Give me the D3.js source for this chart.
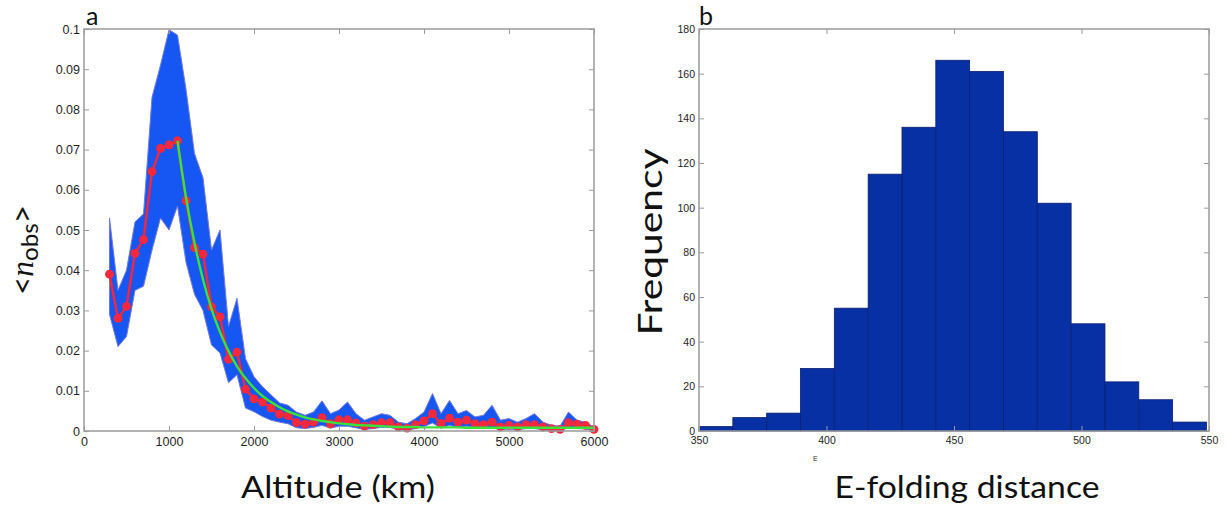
<!DOCTYPE html>
<html>
<head>
<meta charset="utf-8">
<script src="https://cdn.jsdelivr.net/npm/d3@7"></script>
<style>
  html, body { margin: 0; padding: 0; background: #ffffff; }
  svg { display: block; }
</style>
</head>
<body>
<svg id="fig" width="1228" height="507"></svg>
<script>
// ---------------- Panel a: mean observed number vs altitude ----------------
const altitudes = [300, 400, 500, 600, 700, 800, 900, 1000, 1100, 1200, 1300, 1400, 1500, 1600,
  1700, 1800, 1900, 2000, 2100, 2200, 2300, 2400, 2500, 2600, 2700, 2800, 2900, 3000, 3100, 3200,
  3300, 3400, 3500, 3600, 3700, 3800, 3900, 4000, 4100, 4200, 4300, 4400, 4500, 4600, 4700, 4800,
  4900, 5000, 5100, 5200, 5300, 5400, 5500, 5600, 5700, 5800, 5900, 6000];

// mean <n_obs> (red markers)
const nObsMean = [0.0390, 0.0280, 0.0310, 0.0442, 0.0476, 0.0645, 0.0703, 0.0712, 0.0722, 0.0573,
  0.0456, 0.0440, 0.0309, 0.0284, 0.0178, 0.0196, 0.0104, 0.0080, 0.0072, 0.0057, 0.0042, 0.0038,
  0.0021, 0.0017, 0.0022, 0.0033, 0.0018, 0.0028, 0.0028, 0.0020, 0.0012, 0.0016, 0.0021, 0.0021,
  0.0010, 0.0007, 0.0016, 0.0025, 0.0043, 0.0018, 0.0032, 0.0022, 0.0027, 0.0018, 0.0016, 0.0022,
  0.0010, 0.0014, 0.0010, 0.0016, 0.0016, 0.0010, 0.0006, 0.0004, 0.0021, 0.0017, 0.0014, 0.0004];

// spread of the resampled curves (blue band): upper and lower bounds
const nObsUpper = [0.053, 0.035, 0.040, 0.052, 0.054, 0.083, 0.091, 0.0998, 0.0985, 0.085,
  0.069, 0.063, 0.045, 0.050, 0.026, 0.033, 0.018, 0.0135, 0.0110, 0.0090, 0.0070, 0.0064,
  0.0047, 0.0039, 0.0047, 0.0075, 0.0043, 0.0052, 0.0072, 0.0043, 0.0027, 0.0035, 0.0043, 0.0039,
  0.0022, 0.0018, 0.0031, 0.0047, 0.0093, 0.0043, 0.0076, 0.0043, 0.0051, 0.0035, 0.0039, 0.0064,
  0.0027, 0.0031, 0.0022, 0.0031, 0.0043, 0.0022, 0.0014, 0.0012, 0.0047, 0.0027, 0.0022, 0.0010];
const nObsLower = [0.029, 0.021, 0.0235, 0.035, 0.036, 0.045, 0.053, 0.050, 0.056, 0.042,
  0.034, 0.030, 0.0214, 0.0194, 0.012, 0.014, 0.0057, 0.0048, 0.0036, 0.0027, 0.0022, 0.0018,
  0.0008, 0.0006, 0.0009, 0.0014, 0.0007, 0.0012, 0.0012, 0.0008, 0.0004, 0.0006, 0.0009, 0.0009,
  0.0003, 0.0002, 0.0006, 0.0011, 0.0020, 0.0007, 0.0014, 0.0009, 0.0012, 0.0007, 0.0006, 0.0009,
  0.0003, 0.0005, 0.0003, 0.0006, 0.0006, 0.0003, 0.0001, 0.0001, 0.0008, 0.0006, 0.0005, 0.0001];

// exponential fit above the peak (green), 1100 km onward
const fitValues = [0.0722, 0.0581, 0.0468, 0.0377, 0.0304, 0.0246, 0.0199, 0.0161, 0.0131, 0.0107,
  0.0087, 0.0072, 0.0059, 0.0049, 0.0041, 0.0034, 0.0029, 0.0025, 0.0022, 0.0019, 0.0017, 0.0015,
  0.0014, 0.0013, 0.0012, 0.0011, 0.0010, 0.0010, 0.0010, 0.0009, 0.0009, 0.0009, 0.0009, 0.0009,
  0.0008, 0.0008, 0.0008, 0.0008, 0.0008, 0.0008, 0.0008, 0.0008, 0.0008, 0.0008, 0.0008, 0.0008,
  0.0008, 0.0008, 0.0008, 0.0008];
const fitAltitudes = altitudes.slice(altitudes.indexOf(1100));

const altTicks = [0, 1000, 2000, 3000, 4000, 5000, 6000];
const nObsTicks = [0, 0.01, 0.02, 0.03, 0.04, 0.05, 0.06, 0.07, 0.08, 0.09, 0.1];

// ---------------- Panel b: histogram of e-folding distances ----------------
const efoldLow = 350;
const efoldHigh = 549;
const efoldCounts = [2, 6, 8, 28, 55, 115, 136, 166, 161, 134, 102, 48, 22, 14, 4];
const efoldTicks = [350, 400, 450, 500, 550];
const freqTicks = [0, 20, 40, 60, 80, 100, 120, 140, 160, 180];

// ---------------- drawing ----------------
const svg = d3.select('#fig');
const TICK_FONT = '"Liberation Sans", Arial, sans-serif';
const TITLE_FONT = 'Lato, "Open Sans", sans-serif';
const AXIS_GREY = '#9a9a9a';

function frame(x, y, xt, yt, fx, fy, fontSize) {
  const [x0, x1] = x.range();
  const [y0, y1] = y.range();
  const g = svg.append('g');
  const tk = 5;
  const style = sel => {
    sel.select('.domain').remove();
    sel.selectAll('.tick line').attr('stroke', AXIS_GREY).attr('stroke-width', 1);
    sel.selectAll('.tick text').attr('fill', '#1e1e1e')
      .style('font-family', TICK_FONT).style('font-size', fontSize + 'px');
  };
  g.append('g').attr('transform', `translate(0,${y0})`)
    .call(d3.axisBottom(x).tickValues(xt).tickSize(-tk).tickPadding(6).tickFormat(fx)).call(style);
  g.append('g').attr('transform', `translate(0,${y1})`)
    .call(d3.axisTop(x).tickValues(xt).tickSize(-tk).tickFormat('')).call(style);
  g.append('g').attr('transform', `translate(${x0},0)`)
    .call(d3.axisLeft(y).tickValues(yt).tickSize(-tk).tickPadding(4).tickFormat(fy)).call(style);
  g.append('g').attr('transform', `translate(${x1},0)`)
    .call(d3.axisRight(y).tickValues(yt).tickSize(-tk).tickFormat('')).call(style);
  g.append('rect').attr('x', x0).attr('y', y1).attr('width', x1 - x0).attr('height', y0 - y1)
    .attr('fill', 'none').attr('stroke', AXIS_GREY).attr('stroke-width', 1.5);
  return g;
}

// ---- panel a ----
const xA = d3.scaleLinear().domain([0, 6000]).range([84, 594]);
const yA = d3.scaleLinear().domain([0, 0.1]).range([431, 29]);

const plotA = svg.append('g');
const band = altitudes.map((a, i) => ({ a, lo: nObsLower[i], hi: nObsUpper[i] }));
plotA.append('path').datum(band)
  .attr('d', d3.area().x(d => xA(d.a)).y0(d => yA(d.lo)).y1(d => yA(d.hi)))
  .attr('fill', '#1656f3').attr('stroke', '#7078e2').attr('stroke-width', 1)
  .attr('stroke-linejoin', 'miter');

const meanPts = altitudes.map((a, i) => ({ a, v: nObsMean[i] }));
plotA.append('path').datum(meanPts)
  .attr('d', d3.line().x(d => xA(d.a)).y(d => yA(d.v)))
  .attr('fill', 'none').attr('stroke', '#f2263c').attr('stroke-width', 2.5);
plotA.selectAll('circle.m').data(meanPts).join('circle')
  .attr('class', 'm').attr('cx', d => xA(d.a)).attr('cy', d => yA(d.v)).attr('r', 4.4)
  .attr('fill', '#f5283e');

const fitPts = fitAltitudes.map((a, i) => ({ a, v: fitValues[i] }));
plotA.append('path').datum(fitPts)
  .attr('d', d3.line().x(d => xA(d.a)).y(d => yA(d.v)).curve(d3.curveMonotoneX))
  .attr('fill', 'none').attr('stroke', '#3ae23a').attr('stroke-width', 2.4);

frame(xA, yA, altTicks, nObsTicks, d3.format('d'), d => d === 0 ? '0' : d3.format('.2~f')(d), 12.5);

// ---- panel b ----
const xB = d3.scaleLinear().domain([350, 550]).range([699, 1209]);
const yB = d3.scaleLinear().domain([0, 180]).range([431, 29]);
const binW = (efoldHigh - efoldLow) / efoldCounts.length;
const bins = efoldCounts.map((c, i) => ({ x0: efoldLow + i * binW, x1: efoldLow + (i + 1) * binW, c }));
svg.append('g').selectAll('rect').data(bins).join('rect')
  .attr('x', d => xB(d.x0)).attr('width', d => xB(d.x1) - xB(d.x0))
  .attr('y', d => yB(d.c)).attr('height', d => yB(0) - yB(d.c))
  .attr('fill', '#0630a4').attr('stroke', '#0b1f6e').attr('stroke-width', 0.8);

frame(xB, yB, efoldTicks, freqTicks, d3.format('d'), d3.format('d'), 10.5);

// ---- titles and panel letters ----
function title(txt, cx, cy, size, len, rotate) {
  return svg.append('text')
    .attr('transform', `translate(${cx},${cy})` + (rotate ? ' rotate(-90)' : ''))
    .attr('text-anchor', 'middle')
    .style('font-family', TITLE_FONT).style('font-size', size + 'px').attr('fill', '#111')
    .attr('textLength', len).attr('lengthAdjust', 'spacingAndGlyphs')
    .text(txt);
}
title('Altitude (km)', 338, 498, 31, 194, false);
title('E-folding distance', 967, 498, 31, 265, false);
title('Frequency', 662, 242, 32, 187, true);

// <n_obs> label with italic n and subscript
const yl = svg.append('text')
  .attr('transform', 'translate(33,250) rotate(-90)')
  .attr('text-anchor', 'middle')
  .attr('textLength', 90).attr('lengthAdjust', 'spacingAndGlyphs')
  .style('font-family', TITLE_FONT).style('font-size', '31px').attr('fill', '#111');
yl.append('tspan').text('<');
yl.append('tspan').style('font-style', 'italic').style('font-family', '"Liberation Serif", serif').text('n');
yl.append('tspan').attr('dy', 5).style('font-size', '24px').text('obs');
yl.append('tspan').attr('dy', -5).text('>');

svg.append('text').attr('x', 86).attr('y', 25).style('font-family', TITLE_FONT)
  .style('font-size', '25px').attr('fill', '#111').text('a');
svg.append('text').attr('x', 699).attr('y', 25).style('font-family', TITLE_FONT)
  .style('font-size', '25px').attr('fill', '#111').text('b');
svg.append('text').attr('x', 813).attr('y', 461).style('font-family', TICK_FONT)
  .style('font-size', '7px').attr('fill', '#333').text('E');
</script>
</body>
</html>
